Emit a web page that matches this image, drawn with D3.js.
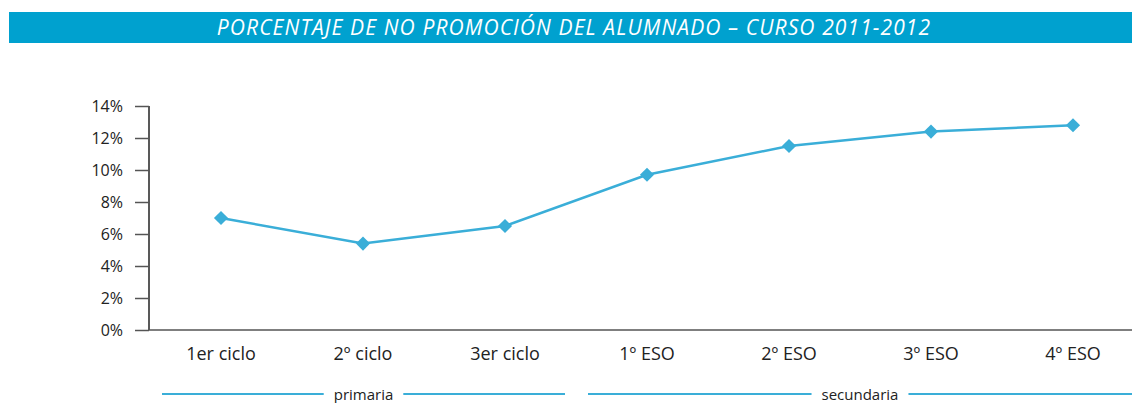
<!DOCTYPE html>
<html>
<head>
<meta charset="utf-8">
<script src="https://cdn.jsdelivr.net/npm/d3@7"></script>
<style>
	body { margin: 0; background: #fff; }
	svg { display: block; font-family: "Open Sans", "Lato", sans-serif; }
</style>
</head>
<body>
<div id="chart"></div>
<script>
// datos del gráfico
const categories = ["1er ciclo", "2º ciclo", "3er ciclo", "1º ESO", "2º ESO", "3º ESO", "4º ESO"];
const values = [7.0, 5.4, 6.5, 9.7, 11.5, 12.4, 12.8];
const yTicks = [0, 2, 4, 6, 8, 10, 12, 14];
const groups = [
	{ name: "primaria", from: "1er ciclo", to: "3er ciclo" },
	{ name: "secundaria", from: "1º ESO", to: "4º ESO" }
];
const title = "PORCENTAJE DE NO PROMOCIÓN DEL ALUMNADO – CURSO 2011-2012";

const width = 1132, height = 403;
const margin = { top: 106, right: 0, bottom: 73, left: 149 };
const blue = "#3aaed8";

let svg = d3.select("#chart")
	.append("svg")
	.attr("width", width)
	.attr("height", height)
	.attr("viewBox", [0, 0, width, height]);

// barra de título
svg.append("rect")
	.attr("x", 9)
	.attr("y", 12)
	.attr("width", width - 9)
	.attr("height", 31)
	.attr("fill", "#00a1cf");
svg.append("text")
	.attr("x", 574)
	.attr("y", 35)
	.attr("text-anchor", "middle")
	.attr("fill", "#fff")
	.attr("font-size", 21)
	.attr("font-style", "italic")
	.attr("letter-spacing", 1.1)
	.text(title);

let x = d3.scaleBand()
	.domain(categories)
	.range([margin.left + 1, margin.left + 1 + 142 * categories.length]);

let y = d3.scaleLinear()
	.domain([0, 14])
	.range([height - margin.bottom, margin.top]);

// eje y
svg.append("g")
	.attr("transform", `translate(${margin.left},0)`)
	.call(d3.axisLeft(y).tickValues(yTicks).tickFormat(d => d + "%").tickSize(14).tickPadding(12))
	.call(g => g.select(".domain").attr("d", `M0,${y(14)}V${y(0)}`).attr("stroke", "#222").attr("stroke-width", 1.5))
	.call(g => g.selectAll(".tick line").attr("stroke", "#555").attr("stroke-width", 1.5))
	.call(g => g.selectAll(".tick text").attr("fill", "#222").attr("font-size", 16).attr("font-family", "Open Sans"));

// eje x
svg.append("g")
	.attr("transform", `translate(0,${y(0)})`)
	.call(d3.axisBottom(x).tickSize(0).tickPadding(17))
	.call(g => g.select(".domain").attr("d", `M${margin.left},0H${width}`).attr("stroke", "#555").attr("stroke-width", 1.5))
	.call(g => g.selectAll(".tick text").attr("fill", "#222").attr("font-size", 18).attr("font-family", "Open Sans"));

// línea
let line = d3.line()
	.x((d, i) => x(categories[i]) + x.bandwidth() / 2)
	.y(d => y(d));

svg.append("path")
	.datum(values)
	.attr("fill", "none")
	.attr("stroke", blue)
	.attr("stroke-width", 2.5)
	.attr("d", line);

svg.append("g")
	.selectAll("path")
	.data(values)
	.join("path")
	.attr("d", d3.symbol(d3.symbolSquare, 100))
	.attr("transform", (d, i) => `translate(${x(categories[i]) + x.bandwidth() / 2},${y(d)}) rotate(45)`)
	.attr("fill", blue);

// grupos (primaria / secundaria)
const gy = 394;
groups.forEach((gr, k) => {
	const x0 = x(gr.from) + 12;
	const x1 = k === 0 ? x(gr.to) + x.bandwidth() - 11 : width;
	const cx = (x0 + x1) / 2;
	const gg = svg.append("g");
	const t = gg.append("text")
		.attr("x", cx)
		.attr("y", 400)
		.attr("text-anchor", "middle")
		.attr("fill", "#222")
		.attr("font-size", 15)
		.text(gr.name);
	const w = t.node().getComputedTextLength();
	gg.append("line")
		.attr("x1", x0).attr("x2", cx - w / 2 - 10)
		.attr("y1", gy).attr("y2", gy)
		.attr("stroke", blue).attr("stroke-width", 2);
	gg.append("line")
		.attr("x1", cx + w / 2 + 10).attr("x2", x1)
		.attr("y1", gy).attr("y2", gy)
		.attr("stroke", blue).attr("stroke-width", 2);
});
</script>
</body>
</html>
